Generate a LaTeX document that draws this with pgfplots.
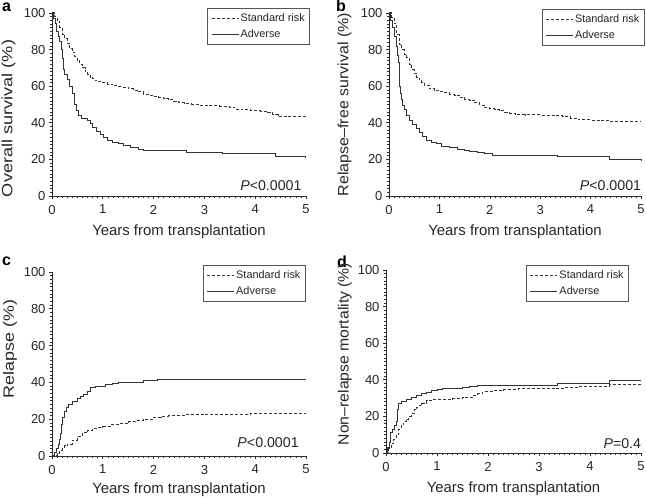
\documentclass[border=0pt]{standalone}
\usepackage{fontspec}
\setmainfont{Liberation Sans}
\usepackage{pgfplots}
\pgfplotsset{compat=1.18}
\definecolor{axc}{HTML}{2A2A2A}
\definecolor{curvc}{HTML}{333333}
\definecolor{legc}{HTML}{555555}
\pgfplotsset{
  kmstyle/.style={
    scale only axis,
    axis lines*=left,
    xmin=0,xmax=5,ymin=0,ymax=100,
    xtick={0,...,5}, ytick={0,20,...,100},
    minor x tick num=9, minor y tick num=9,
    tick align=outside,
    major tick length=3pt, minor tick length=1.8pt,
    axis line style={line width=0.8pt, color=axc},
    tick style={line width=0.6pt, color=axc},
    tick label style={font=\fontsize{13}{13}\selectfont, text=black!85},
    /pgf/number format/assume math mode=true,
    xticklabel style={yshift=-2.5pt},
    xlabel style={at={(axis description cs:0.5,0)}, anchor=base, yshift=-40pt,
      font=\fontsize{14.9}{15}\selectfont, text=black!85},
    ylabel style={anchor=center, font=\fontsize{14.9}{15}\selectfont, text=black!85},
    legend style={draw=legc, line width=0.6pt, anchor=north east,
      font=\fontsize{10.9}{11}\selectfont, text=black!85,
      inner xsep=3.5pt, inner ysep=3.8pt,
      nodes={inner sep=1.5pt}, row sep=4pt,
      cells={anchor=west}},
    legend image code/.code={\draw[#1] (0pt,0pt) -- (27pt,0pt);},
    clip=false,
  },
  stdline/.style={const plot, no marks, color=curvc, line width=1pt, dash pattern=on 3pt off 2pt},
  advline/.style={const plot, no marks, color=curvc, line width=1pt},
}
\newcommand{\pfont}{\fontsize{14.2}{14.2}\selectfont}
\begin{document}
\begin{tikzpicture}[x=1pt,y=1pt]
\path[use as bounding box] (0,0) rectangle (646,497);
% panel letters
\node[anchor=base west, inner sep=0pt, font=\fontsize{16}{16}\selectfont\bfseries] at (2,485) {a};
\node[anchor=base west, inner sep=0pt, font=\fontsize{16}{16}\selectfont\bfseries] at (336,485) {b};
\node[anchor=base west, inner sep=0pt, font=\fontsize{16}{16}\selectfont\bfseries] at (2,231) {c};
\node[anchor=base west, inner sep=0pt, font=\fontsize{16}{16}\selectfont\bfseries] at (337,229) {d};

% ---------- a ----------
\begin{axis}[kmstyle, at={(52pt,301pt)}, anchor=south west, width=254pt, height=183pt,
  xlabel={Years from transplantation},
  ylabel={\scalebox{1.217}[1]{Overall survival (\%)}},
  ylabel style={at={(axis description cs:-0.171,0.4235)}},
  legend style={at={(axis description cs:1.016,1.027)}}]
\addplot[stdline] coordinates {(0,100)(0.05,98)(0.1,95.5)(0.15,92)(0.2,88.5)(0.25,86)(0.3,83.5)(0.35,80.5)(0.4,78.5)(0.45,76)(0.5,74)(0.55,72)(0.6,70)(0.65,68)(0.7,66.5)(0.75,65)(0.8,64)(0.85,63)(0.9,62.5)(1.0,61.8)(1.1,61)(1.2,60.3)(1.3,59.8)(1.4,59.5)(1.5,58.5)(1.6,57.8)(1.7,57)(1.8,55.5)(1.9,55)(2.0,54.5)(2.1,54)(2.2,53.2)(2.3,52.5)(2.4,51.8)(2.5,51)(2.6,50.5)(2.75,50)(2.9,49.5)(3.1,49.2)(3.3,49)(3.5,48.5)(3.6,47.5)(3.75,47)(3.9,46.5)(4.1,46.3)(4.25,45.8)(4.35,44.5)(4.45,43.5)(4.6,43.2)(5.0,43.2)};
\addlegendentry{Standard risk}
\addplot[advline] coordinates {(0,100)(0.03,97)(0.06,94)(0.09,90)(0.12,87)(0.15,84.5)(0.18,80)(0.2,75)(0.22,69)(0.25,66.5)(0.3,63.5)(0.35,60)(0.4,56)(0.45,50)(0.48,46.5)(0.52,44)(0.58,42.5)(0.7,41.5)(0.75,39.5)(0.8,37.5)(0.88,35)(0.95,33.5)(1.02,32)(1.1,30.5)(1.2,29.5)(1.3,28.5)(1.4,27.5)(1.55,26.5)(1.7,25.2)(1.8,24.8)(2.65,24.0)(3.35,23.0)(4.4,21.5)(5.0,21.3)};
\addlegendentry{Adverse}
\node[anchor=base east, inner sep=0pt, font=\pfont, text=black!85] at (axis description cs:0.983,0.029) {\textit{P}<0.0001};
\end{axis}

% ---------- b ----------
\begin{axis}[kmstyle, at={(389pt,301pt)}, anchor=south west, width=252pt, height=183pt,
  xlabel={Years from transplantation},
  ylabel={\scalebox{1.073}[1]{Relapse–free survival (\%)}},
  ylabel style={at={(axis description cs:-0.177,0.5)}},
  legend style={at={(axis description cs:1.014,1.022)}}]
\addplot[stdline] coordinates {(0,100)(0.05,97.5)(0.1,94)(0.15,88)(0.2,83)(0.25,80)(0.3,77.5)(0.35,75.5)(0.4,72)(0.45,69)(0.5,67)(0.55,65)(0.6,63.5)(0.65,62)(0.7,60.5)(0.8,58.5)(0.9,57.5)(1.0,57)(1.1,56.5)(1.2,55.5)(1.3,55)(1.4,54)(1.5,53)(1.6,52.3)(1.7,51)(1.8,49.5)(1.9,48.3)(2.0,47.8)(2.1,47)(2.2,46.5)(2.3,45.8)(2.4,45.2)(2.5,44.5)(2.7,44.3)(3.0,44.2)(3.3,43.8)(3.45,43.2)(3.6,42.4)(3.75,41.8)(4.0,41.5)(4.2,41.2)(4.4,40.5)(5.0,40.5)};
\addlegendentry{Standard risk}
\addplot[advline] coordinates {(0,100)(0.03,96)(0.06,92)(0.1,87)(0.14,81.5)(0.17,77)(0.19,73)(0.2,66)(0.21,60)(0.22,56)(0.24,52.5)(0.27,49.5)(0.3,47)(0.35,44)(0.4,41.5)(0.47,39)(0.54,37)(0.6,34.5)(0.67,32.5)(0.75,30.5)(0.85,29)(0.95,28.5)(1.05,27.2)(1.2,26.5)(1.35,25.5)(1.5,24.8)(1.6,24.2)(1.75,23.6)(1.9,23.2)(2.05,22.4)(3.35,21.5)(4.38,19.7)(5.0,19.6)};
\addlegendentry{Adverse}
\node[anchor=base east, inner sep=0pt, font=\pfont, text=black!85] at (axis description cs:1.001,0.029) {\textit{P}<0.0001};
\end{axis}

% ---------- c ----------
\begin{axis}[kmstyle, at={(52pt,41pt)}, anchor=south west, width=254pt, height=184pt,
  xlabel={Years from transplantation},
  xlabel style={yshift=2.5pt},
  ylabel={\scalebox{1.2}[1]{Relapse (\%)}},
  ylabel style={at={(axis description cs:-0.165,0.5815)}},
  legend style={at={(axis description cs:0.999,1.038)}}]
\addplot[stdline] coordinates {(0,0)(0.05,0.5)(0.1,1.5)(0.15,3)(0.2,4.5)(0.25,5.5)(0.3,6.5)(0.4,8.5)(0.5,10.5)(0.6,12.5)(0.7,14)(0.8,15)(0.9,15.6)(1.0,16)(1.15,17)(1.3,17.5)(1.5,18.5)(1.65,19.2)(1.8,20)(2.0,21)(2.15,21.5)(2.3,22)(2.6,22.5)(3.0,22.6)(3.5,22.8)(3.9,23.2)(5.0,23.2)};
\addlegendentry{Standard risk}
\addplot[advline] coordinates {(0,0)(0.05,2)(0.08,4)(0.13,6)(0.15,9)(0.17,12)(0.19,17)(0.21,21)(0.24,24)(0.28,26.5)(0.33,28)(0.4,29.5)(0.5,31)(0.56,32.2)(0.62,33.5)(0.69,35)(0.76,37)(0.85,37.5)(0.95,38)(1.05,38.8)(1.2,39.5)(1.3,40)(1.8,40.8)(2.08,41.8)(5.0,41.8)};
\addlegendentry{Adverse}
\node[anchor=base east, inner sep=0pt, font=\pfont, text=black!85] at (axis description cs:0.972,0.0435) {\textit{P}<0.0001};
\end{axis}

% ---------- d ----------
\begin{axis}[kmstyle, at={(386pt,44pt)}, anchor=south west, width=255pt, height=183pt,
  xlabel={Years from transplantation},
  ylabel={\scalebox{1.06}[1]{Non–relapse mortality (\%)}},
  ylabel style={at={(axis description cs:-0.162,0.541)}},
  legend style={at={(axis description cs:0.953,1.027)}}]
\addplot[stdline] coordinates {(0,0)(0.05,2.5)(0.1,5)(0.15,7.5)(0.2,10)(0.25,13)(0.3,15.5)(0.35,17)(0.4,18.5)(0.45,20)(0.5,21.5)(0.55,23.5)(0.6,25)(0.65,26)(0.7,27)(0.8,28.5)(0.9,29)(1.1,29.2)(1.3,29.7)(1.5,30.5)(1.7,31.5)(1.8,32.5)(1.9,33.5)(2.1,34)(2.3,34.5)(2.6,35)(3.0,35.2)(3.3,35.5)(3.5,36)(3.8,36.5)(4.38,37.2)(5.0,37.5)};
\addlegendentry{Standard risk}
\addplot[advline] coordinates {(0,0)(0.03,3)(0.06,6)(0.09,11)(0.12,13)(0.17,15)(0.21,17)(0.23,24)(0.25,27)(0.3,28)(0.4,29.5)(0.5,30.5)(0.6,31.5)(0.7,32.5)(0.8,33)(0.9,34)(1.0,34.5)(1.1,35.5)(1.5,36)(1.63,36.5)(1.8,37)(3.37,38.2)(4.38,39.4)(5.0,39.4)};
\addlegendentry{Adverse}
\node[anchor=base east, inner sep=0pt, font=\pfont, text=black!85] at (axis description cs:1.001,0.027) {\textit{P}=0.4};
\end{axis}
\end{tikzpicture}
\end{document}
